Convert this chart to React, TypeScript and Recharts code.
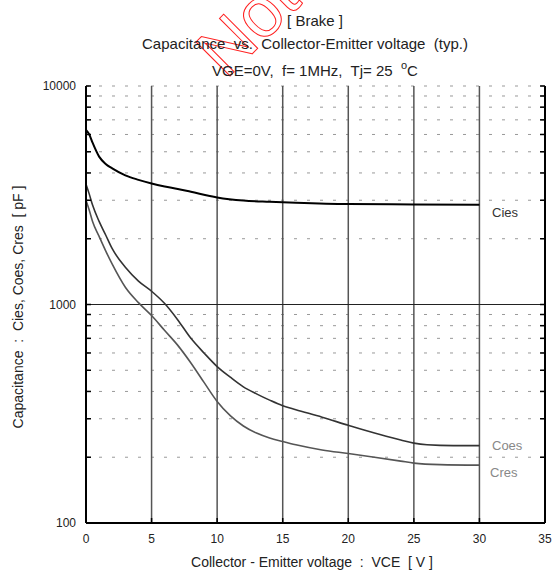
import React from "react";
import {
  LineChart,
  Line,
  XAxis,
  YAxis,
  CartesianGrid,
  ReferenceLine,
} from "recharts";

// VCE [V] and capacitance [pF]
const vceCies = [0, 0.25, 0.5, 1, 1.5, 2, 3, 4, 5, 6, 7, 8, 10, 12, 14, 16, 20, 25, 30];
const cies = [6300, 6000, 5500, 4750, 4400, 4200, 3900, 3720, 3580, 3470, 3380, 3280, 3090, 2990, 2950, 2920, 2880, 2870, 2860];

const vceCoes = [0, 0.25, 0.5, 1, 1.5, 2, 3, 4, 5, 6, 7, 8, 9, 10, 11, 12, 13, 14, 15, 16, 18, 20, 22, 24, 25, 26, 28, 30];
const coes = [3550, 3200, 2850, 2400, 2080, 1800, 1480, 1280, 1150, 1010, 850, 700, 600, 520, 465, 420, 390, 365, 344, 330, 305, 280, 258, 240, 232, 228, 226, 226];

const vceCres = [0, 0.25, 0.5, 1, 1.5, 2, 3, 4, 5, 6, 7, 8, 9, 10, 11, 12, 13, 14, 15, 16, 18, 20, 22, 24, 25, 27, 30];
const cres = [3000, 2700, 2400, 2050, 1760, 1530, 1200, 1020, 890, 760, 650, 540, 440, 360, 310, 278, 258, 245, 236, 228, 216, 208, 200, 192, 188, 185, 184];

const xTicks = [0, 5, 10, 15, 20, 25, 30, 35];
const xGrid = [5, 10, 15, 20, 25, 30];
const yTicks = [100, 200, 300, 400, 500, 600, 700, 800, 900, 1000, 2000, 3000, 4000, 5000, 6000, 7000, 8000, 9000, 10000];
const yLabels = [100, 1000, 10000];

const font = "'Liberation Sans', Arial, sans-serif";

const toRows = (xs: number[], ys: number[]) => xs.map((v, i) => ({ v, c: ys[i] }));

const YTick = (props: any) => {
  const { x, y, payload } = props;
  if (!yLabels.includes(payload.value)) return null;
  return (
    <text x={x} y={y} dy={4} textAnchor="end" fontSize={12} fill="#222" fontFamily={font}>
      {payload.value}
    </text>
  );
};

export default function App() {
  return (
    <div style={{ position: "absolute", left: 0, top: 0, width: 556, height: 572, background: "#fff" }}>
      <LineChart width={556} height={572} margin={{ top: 86, right: 10, bottom: 19, left: 26 }}>
        <CartesianGrid vertical={false} stroke="#999" strokeDasharray="3 10" />
        <XAxis
          xAxisId={0}
          dataKey="v"
          type="number"
          domain={[0, 35]}
          ticks={xTicks}
          interval={0}
          height={30}
          tickSize={-5}
          tickMargin={16}
          axisLine={{ stroke: "#000", strokeWidth: 2 }}
          tickLine={{ stroke: "#000", strokeWidth: 1.5 }}
          tick={{ fontSize: 12, fill: "#222", fontFamily: font }}
        />
        <XAxis
          xAxisId="top"
          orientation="top"
          type="number"
          domain={[0, 35]}
          ticks={xTicks}
          interval={0}
          height={0}
          tickSize={-5}
          axisLine={{ stroke: "#000", strokeWidth: 2 }}
          tickLine={{ stroke: "#000", strokeWidth: 1.5 }}
          tick={() => null}
        />
        <YAxis
          yAxisId={0}
          scale="log"
          type="number"
          domain={[100, 10000]}
          allowDataOverflow
          ticks={yTicks}
          interval={0}
          width={60}
          tickSize={-5}
          tickMargin={15}
          axisLine={{ stroke: "#000", strokeWidth: 2 }}
          tickLine={{ stroke: "#000", strokeWidth: 1.5 }}
          tick={<YTick />}
        />
        <YAxis
          yAxisId="right"
          orientation="right"
          scale="log"
          type="number"
          domain={[100, 10000]}
          allowDataOverflow
          ticks={yTicks}
          interval={0}
          width={1}
          tickSize={-5}
          axisLine={{ stroke: "#000", strokeWidth: 2 }}
          tickLine={{ stroke: "#000", strokeWidth: 1.5 }}
          tick={() => null}
        />
        {xGrid.map((v) => (
          <ReferenceLine key={v} x={v} stroke="#555" strokeWidth={1.5} />
        ))}
        <ReferenceLine x={35} stroke="#000" strokeWidth={2} />
        <ReferenceLine y={1000} stroke="#222" strokeWidth={1.2} />
        <Line
          data={toRows(vceCies, cies)}
          dataKey="c"
          type="monotone"
          stroke="#000"
          strokeWidth={2}
          dot={false}
          isAnimationActive={false}
        />
        <Line
          data={toRows(vceCoes, coes)}
          dataKey="c"
          type="monotone"
          stroke="#333"
          strokeWidth={1.6}
          dot={false}
          isAnimationActive={false}
        />
        <Line
          data={toRows(vceCres, cres)}
          dataKey="c"
          type="monotone"
          stroke="#555"
          strokeWidth={1.6}
          dot={false}
          isAnimationActive={false}
        />
      </LineChart>
      <svg
        width={556}
        height={572}
        style={{ position: "absolute", left: 0, top: 0, pointerEvents: "none" }}
        fontFamily={font}
      >
        <text
          x={226}
          y={80}
          transform="rotate(-45 226 80)"
          fontSize={70}
          fill="none"
          stroke="#ff2020"
          strokeWidth={1}
        >
          Not
        </text>
        <g fill="#222" textAnchor="middle">
          <text x={315} y={26} fontSize={15} xmlSpace="preserve">[ Brake ]</text>
          <text x={305} y={49} fontSize={15} xmlSpace="preserve">Capacitance  vs.  Collector-Emitter voltage  (typ.)</text>
          <text x={315} y={76} fontSize={15} xmlSpace="preserve">
            {"VGE=0V,  f= 1MHz,  Tj= 25  "}
            <tspan fontSize={11} dy={-7}>o</tspan>
            <tspan dy={7}>C</tspan>
          </text>
          <text x={312} y={567} fontSize={14} xmlSpace="preserve">Collector - Emitter voltage  :  VCE  [ V ]</text>
          <text x={23} y={307} fontSize={14} transform="rotate(-90 23 307)" xmlSpace="preserve">
            Capacitance  :  Cies, Coes, Cres  [ pF ]
          </text>
        </g>
        <g fontSize={13}>
          <text x={492} y={217} fill="#333">Cies</text>
          <text x={492} y={450} fill="#888">Coes</text>
          <text x={490} y={477} fill="#888">Cres</text>
        </g>
      </svg>
    </div>
  );
}
